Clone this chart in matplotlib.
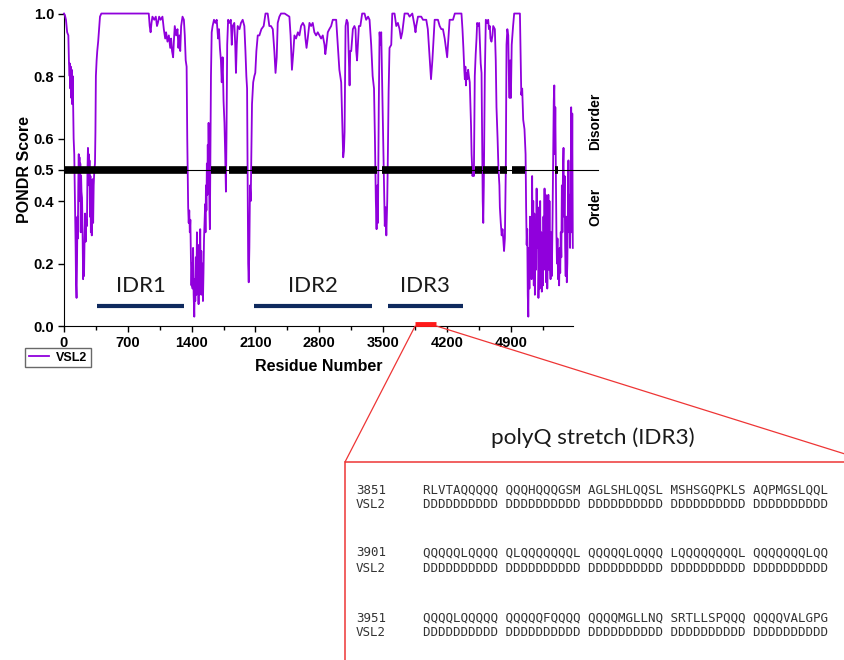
import numpy as np
import matplotlib
matplotlib.use('Agg')
import matplotlib.pyplot as plt
from matplotlib.patches import Rectangle, ConnectionPatch
from matplotlib.lines import Line2D

plt.rcParams['font.family'] = ['Liberation Sans', 'DejaVu Sans']

# VSL2 disorder prediction
residue = [0, 10, 22, 35, 48, 55, 62, 66, 70, 75, 80, 85, 90, 95, 100, 106, 113, 118, 124, 128,
           132, 138, 143, 148, 152, 157, 162, 166, 170, 175, 179, 184, 188, 192, 198, 204, 210, 214,
           220, 226, 232, 238, 245, 252, 258, 263, 268, 272, 276, 280, 285, 290, 295, 300, 305, 310,
           315, 320, 326, 333, 340, 345, 350, 358, 365, 375, 385, 395, 410,
           930, 940, 950, 960, 970, 990, 1007, 1020, 1030, 1044, 1060, 1080, 1095, 1110, 1120, 1135,
           1150, 1165, 1175, 1185, 1197, 1205, 1215, 1230, 1245, 1255, 1265, 1275, 1285, 1300, 1315,
           1325, 1335, 1345, 1352,
           1358, 1362, 1368, 1374, 1380, 1386, 1392, 1398, 1404, 1410, 1416, 1422, 1429, 1435, 1440,
           1446, 1452, 1458, 1464, 1470, 1476, 1482, 1488, 1494, 1500, 1506, 1512, 1518, 1524, 1530,
           1536, 1542, 1548, 1552, 1557, 1562, 1567, 1572, 1577, 1582, 1586, 1592, 1596, 1600, 1606,
           1612, 1620, 1630, 1645, 1660, 1675, 1690, 1700, 1710, 1721, 1730, 1740, 1750, 1760, 1768,
           1776, 1782, 1790, 1800, 1815, 1830, 1840, 1850, 1868, 1878, 1886, 1895, 1905, 1925, 1941,
           1960, 1978, 1990, 2000, 2008, 2014, 2020, 2026, 2033, 2040, 2048, 2055, 2062, 2075, 2088,
           2098, 2110, 2125,
           2143, 2165, 2190, 2210, 2234, 2252, 2270, 2290, 2307, 2320, 2333, 2344, 2362, 2380, 2420,
           2472, 2485, 2500, 2516, 2527, 2545, 2565, 2582, 2600, 2620, 2637, 2648, 2660, 2673, 2692,
           2710, 2728, 2746, 2765, 2783, 2801, 2820, 2838, 2857, 2866, 2875,
           2893, 2910, 2930, 2948, 2985, 3003, 3020, 3040, 3051, 3062, 3070, 3077, 3088, 3100, 3113,
           3124, 3132, 3139, 3150, 3168, 3185, 3197, 3205, 3214, 3223, 3234, 3250, 3260, 3270, 3296,
           3314, 3335, 3351, 3369, 3385, 3400, 3410, 3420, 3428, 3436, 3443, 3452, 3461, 3470, 3479,
           3490, 3500, 3510, 3518, 3526, 3535, 3545, 3552, 3560, 3570, 3589, 3600, 3625, 3644, 3662,
           3680, 3695, 3710, 3735, 3772, 3790, 3820, 3845, 3855, 3863, 3882, 3918, 3937, 3973, 3990,
           4010, 4025, 4040, 4065, 4101, 4120, 4138, 4156, 4175, 4193, 4202, 4211, 4229, 4266,
           4286, 4359, 4370, 4380, 4390, 4396, 4402, 4408, 4414, 4425, 4432, 4440, 4450, 4458, 4464,
           4470, 4480, 4490, 4495, 4505, 4515, 4524, 4531, 4545, 4553, 4560, 4570, 4579, 4586, 4592,
           4598, 4604, 4615, 4626, 4641, 4652, 4660, 4670, 4677, 4688, 4699, 4707, 4725, 4735, 4743,
           4755, 4765, 4775, 4780, 4790, 4800, 4809, 4817, 4826, 4835,
           4845, 4853, 4862, 4872, 4879, 4886, 4893, 4901, 4910, 4925, 4937, 5000, 5008, 5015, 5025,
           5036, 5050, 5062, 5068, 5074, 5080, 5086, 5092, 5098, 5104, 5110, 5116, 5122, 5128, 5134,
           5140, 5146, 5152, 5158, 5164, 5170, 5176, 5183, 5190, 5196, 5203, 5210, 5216, 5222, 5228,
           5234, 5240, 5246, 5252, 5258, 5264, 5270, 5276, 5282, 5288, 5294, 5300, 5306, 5312, 5318,
           5324, 5330, 5336, 5342, 5350, 5358, 5365, 5371, 5377, 5382, 5388, 5394, 5400, 5406, 5412,
           5418, 5424, 5430, 5436, 5442, 5448, 5454, 5460, 5466, 5472, 5478, 5484, 5490, 5496, 5502,
           5508, 5514, 5520, 5526, 5532, 5538, 5544, 5550, 5556, 5562, 5568, 5574, 5580]
score = [1.0, 0.995, 0.98, 0.94, 0.93, 0.84, 0.80, 0.84, 0.76, 0.83, 0.73, 0.82, 0.71, 0.80, 0.72,
         0.60, 0.55, 0.45, 0.34, 0.25, 0.14, 0.09, 0.20, 0.35, 0.28, 0.45, 0.55, 0.47, 0.54, 0.40,
         0.52, 0.30, 0.48, 0.43, 0.41, 0.30, 0.15, 0.22, 0.16, 0.28, 0.36, 0.27, 0.34, 0.32, 0.50,
         0.57, 0.50, 0.55, 0.45, 0.53, 0.35, 0.48, 0.30, 0.44, 0.29, 0.40, 0.47, 0.33, 0.45, 0.50,
         0.52, 0.62, 0.80, 0.85, 0.88, 0.91, 0.95, 0.99, 1.0,
         1.0, 0.96, 0.94, 0.97, 0.99, 0.98, 0.99, 0.96, 0.97, 0.99, 0.98, 0.99, 0.95, 0.92, 0.94,
         0.91, 0.93, 0.89, 0.92, 0.88, 0.86, 0.91, 0.96, 0.93, 0.95, 0.89, 0.93, 0.88, 0.96, 0.99,
         0.98, 0.93, 0.85, 0.83, 0.60,
         0.45, 0.38, 0.33, 0.37, 0.30, 0.34, 0.22, 0.13, 0.20, 0.12, 0.25, 0.10, 0.03, 0.15, 0.08,
         0.22, 0.10, 0.30, 0.12, 0.20, 0.07, 0.26, 0.10, 0.31, 0.14, 0.24, 0.10, 0.20, 0.08, 0.17,
         0.28, 0.34, 0.39, 0.30, 0.45, 0.37, 0.52, 0.42, 0.58, 0.44, 0.65, 0.48, 0.36, 0.31, 0.55,
         0.80, 0.94, 0.96, 0.98, 0.97, 0.98, 0.92, 0.95, 0.89, 0.85, 0.78, 0.86, 0.72, 0.65, 0.55,
         0.43, 0.60, 0.90, 0.98, 0.97, 0.98, 0.90, 0.96, 0.97, 0.90, 0.81, 0.90, 0.96, 0.95, 0.97,
         0.98, 0.96, 0.88, 0.80, 0.76, 0.45, 0.20, 0.14, 0.25, 0.45, 0.40, 0.55, 0.71, 0.78, 0.80,
         0.81, 0.88, 0.93,
         0.93, 0.95, 0.96, 1.0, 1.0, 0.96, 0.96, 0.95, 0.88, 0.81, 0.86, 0.97, 0.99, 1.0, 1.0,
         0.99, 0.93, 0.82, 0.88, 0.93, 0.92, 0.94, 0.93, 0.96, 0.97, 0.96, 0.92, 0.89, 0.92, 0.97,
         0.96, 0.97, 0.94, 0.93, 0.94, 0.93, 0.92, 0.93, 0.90, 0.87, 0.89,
         0.94, 0.95, 0.96, 0.98, 0.98, 0.90, 0.82, 0.78, 0.66, 0.54, 0.56, 0.62, 0.96, 0.98, 0.97,
         0.85, 0.77, 0.88, 0.88, 0.95, 0.96, 0.95, 0.88, 0.85, 0.90, 0.96, 0.96, 0.98, 1.0, 1.0,
         0.98, 0.99, 0.98, 0.90, 0.80, 0.76, 0.60, 0.40, 0.31, 0.45, 0.33, 0.70, 0.94, 0.90, 0.94,
         0.76, 0.60, 0.45, 0.32, 0.38, 0.29, 0.40, 0.55, 0.75, 0.89, 0.90, 1.0, 1.0, 0.96, 0.97,
         0.95, 0.92, 0.94, 1.0, 1.0, 0.99, 1.0, 0.96, 0.94, 0.96, 0.99, 0.99, 0.98, 0.98, 0.95,
         0.86, 0.79, 0.85, 0.98, 0.98, 0.96, 0.95, 0.95, 0.92, 0.88, 0.86, 0.90, 0.98, 0.98,
         1.0, 1.0, 0.95, 0.89, 0.82, 0.79, 0.83, 0.77, 0.81, 0.79, 0.82, 0.80, 0.78, 0.70, 0.64,
         0.55, 0.48, 0.50, 0.48, 0.80, 0.87, 0.92, 0.97, 0.96, 0.97, 0.92, 0.84, 0.81, 0.60, 0.40,
         0.33, 0.45, 0.80, 0.98, 0.97, 0.98, 0.95, 0.96, 0.92, 0.91, 0.93, 0.96, 0.95, 0.85, 0.70,
         0.60, 0.50, 0.45, 0.38, 0.33, 0.29, 0.31, 0.28, 0.24, 0.28,
         0.50, 0.90, 0.95, 0.93, 0.80, 0.73, 0.85, 0.73, 0.90, 0.96, 1.0, 1.0, 0.86, 0.74, 0.76,
         0.66, 0.63, 0.55, 0.38, 0.26, 0.31, 0.10, 0.03, 0.25, 0.12, 0.35, 0.22, 0.30, 0.15, 0.48,
         0.20, 0.40, 0.13, 0.36, 0.10, 0.30, 0.18, 0.44, 0.25, 0.38, 0.09, 0.20, 0.12, 0.40, 0.16,
         0.30, 0.11, 0.25, 0.13, 0.35, 0.20, 0.44, 0.18, 0.42, 0.14, 0.33, 0.12, 0.28, 0.42, 0.18,
         0.40, 0.20, 0.15, 0.30, 0.16, 0.35, 0.55, 0.72, 0.77, 0.55, 0.70, 0.50, 0.30, 0.20, 0.28,
         0.15, 0.22, 0.13, 0.25, 0.17, 0.30, 0.22, 0.45, 0.30, 0.50, 0.57, 0.35, 0.48, 0.25, 0.16,
         0.35, 0.14, 0.20, 0.35, 0.53, 0.30, 0.42, 0.25, 0.40, 0.70, 0.30, 0.68, 0.25]

# disordered stretches marked by the thick bar at 0.5
dis_start = [0, 1615, 1813, 2066, 3484, 4505, 4593, 4780, 4912, 5385]
dis_end = [1350, 1780, 2011, 3429, 4473, 4582, 4758, 4857, 5055, 5418]

idr_names = ['IDR1', 'IDR2', 'IDR3']
idr_start = [363, 2088, 3549]
idr_end = [1319, 3381, 4374]

polyq_start, polyq_end = 3851, 4085

seq_num = ['3851', '3901', '3951']
seq_rows = ['RLVTAQQQQQ QQQHQQQGSM AGLSHLQQSL MSHSGQPKLS AQPMGSLQQL',
            'QQQQQLQQQQ QLQQQQQQQL QQQQQLQQQQ LQQQQQQQQL QQQQQQQLQQ',
            'QQQQLQQQQQ QQQQQFQQQQ QQQQMGLLNQ SRTLLSPQQQ QQQQVALGPG']
pred_row = 'DDDDDDDDDD DDDDDDDDDD DDDDDDDDDD DDDDDDDDDD DDDDDDDDDD'

purple = '#9000dc'
navy = '#0f2a5e'
red = '#ee3535'

fig = plt.figure(figsize=(8.45, 6.60), dpi=100)
ax = fig.add_axes([0.0757, 0.506, 0.6024, 0.4735])

ax.plot(residue, score, color=purple, lw=1.3, zorder=3, clip_on=False)
ax.plot([0, 5860], [0.5, 0.5], color='black', lw=0.8, clip_on=False, zorder=4)
ax.hlines([0.5] * len(dis_start), dis_start, dis_end, color='black', lw=5.5, zorder=5)

for name, s, e in zip(idr_names, idr_start, idr_end):
    ax.plot([s, e], [0.065, 0.065], color=navy, lw=3, solid_capstyle='butt')
    ax.text((s + e) / 2, 0.095, name, ha='center', va='bottom', fontsize=16,
            family='Lato', color='#1a1a1a')

ax.plot([polyq_start, polyq_end], [0.007, 0.007], color='#ff1a1a', lw=3.5,
        solid_capstyle='butt', clip_on=False, zorder=6)

ax.text(5830, 0.655, 'Disorder', rotation=90, ha='center', va='center',
        fontsize=10, fontweight='bold')
ax.text(5830, 0.38, 'Order', rotation=90, ha='center', va='center',
        fontsize=10, fontweight='bold')

ax.set_xlim(0, 5582)
ax.set_ylim(0, 1)
ax.set_xticks(np.arange(0, 5000, 700))
ax.set_xticks(np.arange(0, 5582, 350), minor=True)
ax.set_yticks([0.0, 0.2, 0.4, 0.5, 0.6, 0.8, 1.0])
ax.set_yticklabels(['0.0', '0.2', '0.4', '0.5', '0.6', '0.8', '1.0'])
ax.tick_params(direction='out', length=4, width=1, labelsize=10.5, pad=3)
ax.tick_params(axis='x', which='minor', direction='out', length=3, width=1)
for lbl in ax.get_xticklabels() + ax.get_yticklabels():
    lbl.set_fontweight('bold')
ax.spines['top'].set_visible(False)
ax.spines['right'].set_visible(False)
ax.set_xlabel('Residue Number', fontsize=11.5, fontweight='bold', labelpad=7)
ax.set_ylabel('PONDR Score', fontsize=11.5, fontweight='bold', labelpad=1)

leg_handle = Line2D([], [], color=purple, lw=1.3)
leg = fig.legend([leg_handle], ['VSL2'], loc='upper left',
                 bbox_to_anchor=(25 / 845, 1 - 348 / 660), borderaxespad=0,
                 prop={'weight': 'bold', 'size': 9}, fancybox=False,
                 handlelength=1.6, handletextpad=0.6, borderpad=0.3, edgecolor='#444444')
leg.get_frame().set_linewidth(1)

# zoom-in box with the polyQ sequence
box_x, box_y = 345 / 845, 1 - 462 / 660
fig.patches.append(Rectangle((box_x, -0.05), 0.7, box_y + 0.05, transform=fig.transFigure,
                             fill=False, edgecolor=red, lw=1.1))
fig.add_artist(ConnectionPatch(xyA=(polyq_start, 0.0), coordsA=ax.transData,
                               xyB=(box_x, box_y), coordsB=fig.transFigure,
                               color=red, lw=0.9))
fig.add_artist(ConnectionPatch(xyA=(polyq_end, 0.0), coordsA=ax.transData,
                               xyB=(1.0, 1 - 454 / 660), coordsB=fig.transFigure,
                               color=red, lw=0.9))
fig.text(593 / 845, 1 - 438 / 660, 'polyQ stretch (IDR3)', ha='center', va='center',
         fontsize=16.2, family='Lato', color='#1a1a1a')

row_y = [490, 553, 618]
for num, seq, y in zip(seq_num, seq_rows, row_y):
    fig.text(356 / 845, 1 - y / 660, num, ha='left', va='center', family='DejaVu Sans Mono',
             fontsize=9, color='#333333')
    fig.text(423 / 845, 1 - y / 660, seq, ha='left', va='center', family='DejaVu Sans Mono',
             fontsize=9, color='#333333')
    fig.text(356 / 845, 1 - (y + 15) / 660, 'VSL2', ha='left', va='center',
             family='DejaVu Sans Mono', fontsize=9, color='#333333')
    fig.text(423 / 845, 1 - (y + 15) / 660, pred_row, ha='left', va='center',
             family='DejaVu Sans Mono', fontsize=9, color='#333333')

fig.savefig('out.png', dpi=100)
